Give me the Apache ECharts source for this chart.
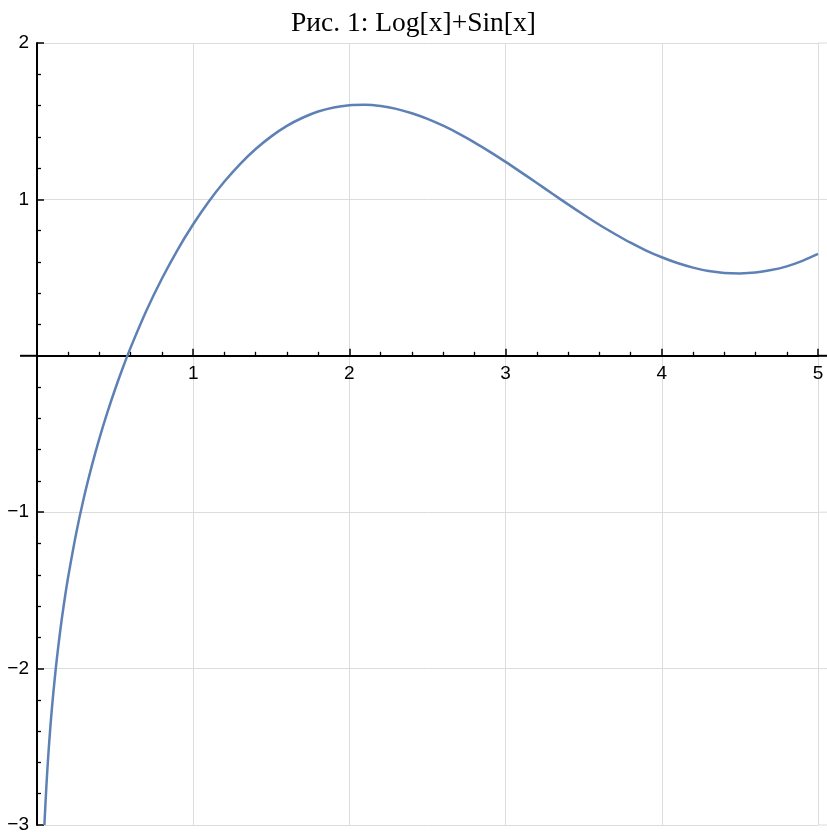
<!DOCTYPE html>
<html>
<head>
<meta charset="utf-8">
<script src="https://cdn.jsdelivr.net/npm/echarts@6/dist/echarts.min.js"></script>
<style>html,body{margin:0;padding:0;background:#fff;}#c{width:827px;height:832px;}</style>
</head>
<body>
<div id="c"></div>
<script>
const titleText = 'Рис. 1: Log[x]+Sin[x]';
const xValues = [0.0475,0.05,0.06,0.07,0.08,0.09,0.10,0.12,0.14,0.16,0.18,0.20,0.25,0.30,0.35,0.40,0.45,0.50,0.55,0.60,0.70,0.80,0.90,1.0,1.1,1.2,1.3,1.4,1.5,1.6,1.7,1.8,1.9,2.0,2.1,2.2,2.3,2.4,2.5,2.6,2.7,2.8,2.9,3.0,3.1,3.2,3.3,3.4,3.5,3.6,3.7,3.8,3.9,4.0,4.1,4.2,4.3,4.4,4.5,4.6,4.7,4.8,4.9,5.0];
const yValues = [-3.0,-2.946,-2.753,-2.589,-2.446,-2.318,-2.203,-2.001,-1.827,-1.673,-1.536,-1.411,-1.139,-0.908,-0.707,-0.527,-0.364,-0.214,-0.075,0.054,0.288,0.494,0.678,0.841,0.987,1.114,1.226,1.322,1.403,1.470,1.522,1.562,1.588,1.602,1.605,1.597,1.579,1.551,1.515,1.471,1.421,1.365,1.304,1.240,1.173,1.105,1.036,0.968,0.902,0.838,0.779,0.723,0.673,0.630,0.593,0.564,0.542,0.530,0.527,0.532,0.548,0.572,0.607,0.651];
const xTicks = [0,1,2,3,4,5];
const yTicks = [-3,-2,-1,0,1,2];

const data = xValues.map((x,i)=>[x,yValues[i]]);
const fmt = v => v === 0 ? '' : String(v).replace('-', '\u2212');
const chart = echarts.init(document.getElementById('c'), null, {renderer:'canvas'});
const axisCommon = {
  type:'value', interval:1,
  axisLine:{show:true,onZero:true,lineStyle:{color:'#000',width:2}},
  axisTick:{show:true,inside:true,length:7,lineStyle:{color:'#000',width:1.5}},
  minorTick:{show:true,splitNumber:5,length:4,lineStyle:{color:'#000',width:1.3}},
  splitLine:{show:true,lineStyle:{color:'#dcdcdc',width:1}},
  axisLabel:{formatter:fmt,color:'#000',fontSize:19,fontFamily:'Liberation Sans'}
};
chart.setOption({
  animation:false,
  backgroundColor:'#fff',
  title:{text:titleText,left:'center',top:5,textStyle:{fontFamily:'Liberation Serif',fontSize:27.5,fontWeight:'normal',color:'#000'}},
  grid:{left:37,right:9,top:43,bottom:7,containLabel:false,outerBoundsMode:'none'},
  xAxis:Object.assign({},axisCommon,{min:xTicks[0],max:xTicks[xTicks.length-1],axisLabel:Object.assign({},axisCommon.axisLabel,{margin:8})}),
  yAxis:Object.assign({},axisCommon,{min:yTicks[0],max:yTicks[yTicks.length-1],axisLabel:Object.assign({},axisCommon.axisLabel,{margin:8})}),
  series:[{type:'line',data:data,showSymbol:false,smooth:0.3,clip:true,lineStyle:{color:'#5E81B5',width:2.5}}]
});
const p0 = chart.convertToPixel({gridIndex:0},[0,0]);
const p5 = chart.convertToPixel({gridIndex:0},[xTicks[xTicks.length-1],0]);
const pB = chart.convertToPixel({gridIndex:0},[0,yTicks[0]]);
const W = chart.getWidth();
const g = [];
yTicks.filter(v=>v!==0).forEach(v=>{
  const p = chart.convertToPixel({gridIndex:0},[xTicks[xTicks.length-1],v]);
  g.push({type:'line',shape:{x1:p[0],y1:p[1],x2:W,y2:p[1]},style:{stroke:'#dcdcdc',lineWidth:1},z:0});
});
g.push({type:'line',shape:{x1:p0[0]-17,y1:p0[1],x2:p0[0],y2:p0[1]},style:{stroke:'#000',lineWidth:2},z:10});
g.push({type:'line',shape:{x1:p5[0],y1:p5[1],x2:W,y2:p5[1]},style:{stroke:'#000',lineWidth:2},z:10});
// v6 keeps x labels at the grid edge; shift them up to sit under the zero axis line
const axisOnBottomEdge = Math.abs(pB[1] - p0[1]) > 1;
chart.setOption({
  graphic:g,
  xAxis:{axisLabel:{margin: axisOnBottomEdge ? (p0[1] - pB[1] + 8) : 8}}
});
</script>
</body>
</html>
